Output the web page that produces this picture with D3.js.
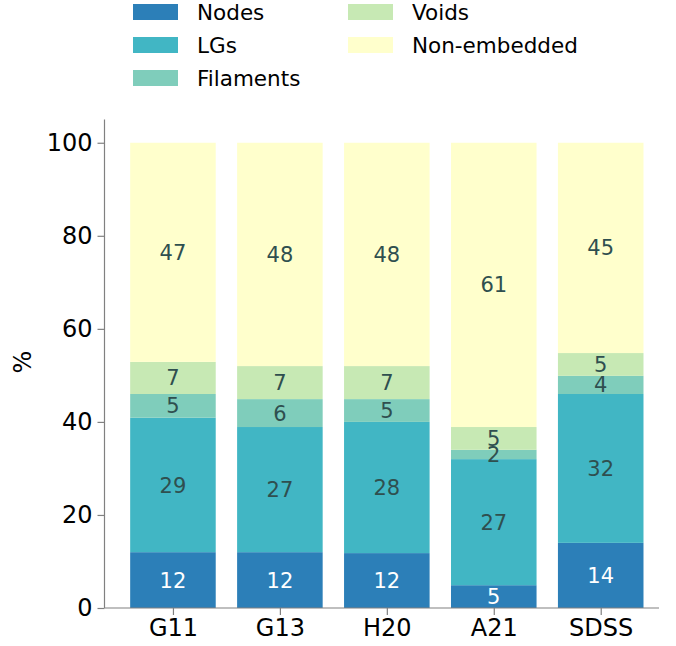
<!DOCTYPE html>
<html>
<head>
<meta charset="utf-8">
<script src="https://cdn.jsdelivr.net/npm/d3@7"></script>
<style>
  body { margin: 0; background: #fff; }
  svg { font-family: "DejaVu Sans", sans-serif; }
</style>
</head>
<body>
<div id="chart"></div>
<script>
// categories and series (percent of galaxies per environment)
var samples = ["G11", "G13", "H20", "A21", "SDSS"];
var envNames = ["Nodes", "LGs", "Filaments", "Voids", "Non-embedded"];
var nodes       = [12.0, 12.0, 11.8, 4.9, 14.0];
var lgs         = [28.9, 26.9, 28.2, 27.1, 32.0];
var filaments   = [5.1, 6.0, 4.9, 2.0, 3.9];
var voids       = [6.9, 7.1, 7.1, 4.9, 4.9];
var nonEmbedded = [47.1, 48.0, 48.0, 61.1, 45.2];
var envColors = ["#2c7fb8", "#41b6c4", "#7fcdbb", "#c7e9b4", "#ffffcc"];
var yTicks = [0, 20, 40, 60, 80, 100];

var width = 676, height = 646;
var plotLeft = 104.5, plotRight = 659, plotTop = 119.5, plotBottom = 608;

var svg = d3.select("#chart").append("svg")
  .attr("width", width)
  .attr("height", height);

var x = d3.scaleLinear().domain([-0.64, 4.545]).range([plotLeft, plotRight]);
var y = d3.scaleLinear().domain([0, 105]).range([plotBottom, plotTop]);
var barW = x(0.8) - x(0);

var series = [nodes, lgs, filaments, voids, nonEmbedded];

// build stacked table
var rows = samples.map(function(s, i) {
  var r = {sample: s, i: i};
  envNames.forEach(function(e, k) { r[e] = series[k][i]; });
  return r;
});
var stacked = d3.stack().keys(envNames)(rows);

var g = svg.append("g");

stacked.forEach(function(layer, k) {
  g.selectAll(".seg" + k)
    .data(layer).enter().append("rect")
      .attr("x", function(d) { return x(d.data.i) - barW / 2; })
      .attr("y", function(d) { return y(d[1]); })
      .attr("width", barW)
      .attr("height", function(d) { return y(d[0]) - y(d[1]); })
      .attr("fill", envColors[k]);
});

// labels drawn after all segments so they sit on top
stacked.forEach(function(layer, k) {
  g.selectAll(".lab" + k)
    .data(layer).enter().append("text")
      .attr("x", function(d) { return x(d.data.i); })
      .attr("y", function(d) { return y((d[0] + d[1]) / 2); })
      .attr("dy", "0.36em")
      .attr("text-anchor", "middle")
      .attr("font-size", 21)
      .attr("fill", k === 0 ? "#ffffff" : "#2f4f4f")
      .text(function(d) { return Math.round(d[1] - d[0]); });
});

// axes
var yAxis = svg.append("g")
  .attr("transform", "translate(" + plotLeft + ",0)")
  .call(d3.axisLeft(y).tickValues(yTicks).tickSize(7).tickPadding(5));
var xAxis = svg.append("g")
  .attr("transform", "translate(0," + plotBottom + ")")
  .call(d3.axisBottom(x).tickValues(d3.range(samples.length))
    .tickFormat(function(d) { return samples[d]; })
    .tickSize(7).tickPadding(4));

[yAxis, xAxis].forEach(function(ax) {
  ax.select(".domain").attr("stroke", "#808080").attr("stroke-width", 1.2);
  ax.selectAll(".tick line").attr("stroke", "#808080").attr("stroke-width", 1.2);
  ax.selectAll(".tick text")
    .attr("fill", "#000")
    .attr("font-size", 24)
    .attr("font-family", "DejaVu Sans, sans-serif");
});
yAxis.select(".domain").attr("d", "M0," + plotBottom + "V" + plotTop);
xAxis.select(".domain").attr("d", "M" + plotLeft + ",0H" + plotRight);

svg.append("text")
  .attr("transform", "translate(31,362) rotate(-90)")
  .attr("text-anchor", "middle")
  .attr("font-size", 24)
  .attr("fill", "#000")
  .text("%");

// legend, two columns
var legend = svg.append("g");
envNames.forEach(function(name, k) {
  var col = k < 3 ? 0 : 1;
  var row = k < 3 ? k : k - 3;
  var lx = col === 0 ? 133 : 348;
  var ly = 12 + row * 33;
  legend.append("rect")
    .attr("x", lx).attr("y", ly - 8)
    .attr("width", 45).attr("height", 16)
    .attr("fill", envColors[k]);
  legend.append("text")
    .attr("x", lx + 64).attr("y", ly)
    .attr("dy", "0.36em")
    .attr("font-size", 21.5)
    .attr("fill", "#000")
    .text(name);
});
</script>
</body>
</html>
